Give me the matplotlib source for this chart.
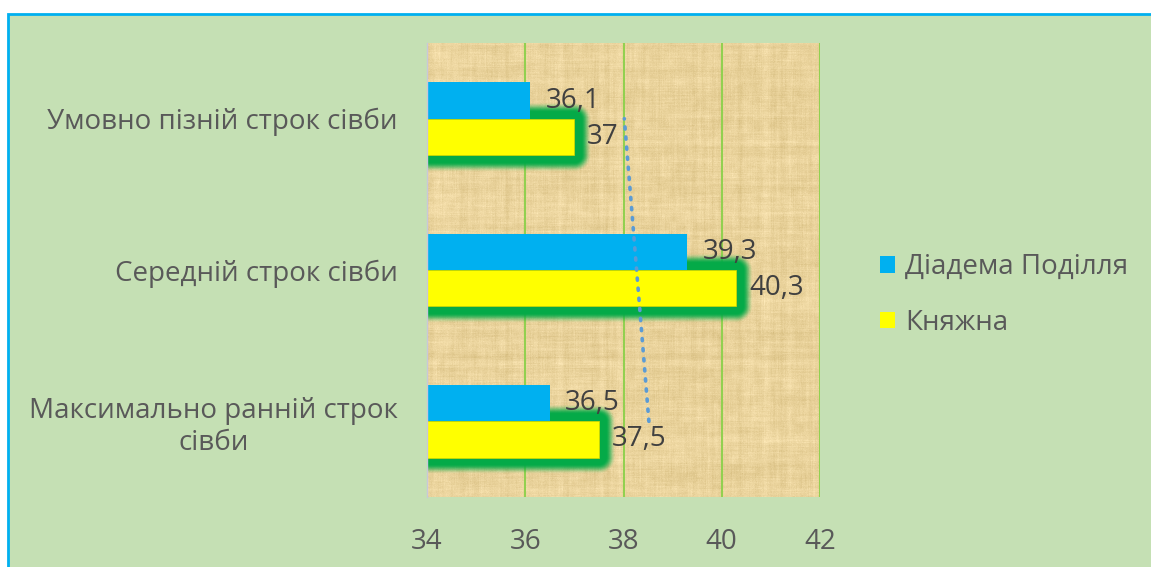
import matplotlib
matplotlib.use("Agg")
import matplotlib.pyplot as plt
import numpy as np
from matplotlib.patches import Rectangle

categories = ["Максимально ранній строк\nсівби", "Середній строк сівби", "Умовно пізній строк сівби"]
series_names = ["Діадема Поділля", "Княжна"]
diadema = [36.5, 39.3, 36.1]
kniazhna = [37.5, 40.3, 37.0]
x_ticks = [34, 36, 38, 40, 42]

BG = "#c5e0b4"
BLUE = "#00b0f0"
YELLOW = "#ffff00"
GLOW = "#04aa48"
TEXT = "#595959"
LABEL = "#404040"
FS = 20

W, H = 1151, 567
plt.rcParams["font.family"] = ["Open Sans", "DejaVu Sans"]

fig = plt.figure(figsize=(W / 100, H / 100), dpi=100)
fig.patch.set_facecolor("white")
fig.patches.append(Rectangle((8 / W, -0.05), 1.1, 1 - 14 / H + 0.05, transform=fig.transFigure,
                             facecolor=BG, edgecolor=BLUE, linewidth=2, zorder=-10))

ax_l, ax_r, ax_t, ax_b = 427, 820, 43, 497
ax = fig.add_axes([ax_l / W, 1 - ax_b / H, (ax_r - ax_l) / W, (ax_b - ax_t) / H])
ax.set_facecolor("none")
xmin, xmax = 34, 42
ymin, ymax = -0.5, 2.5
ax.set_xlim(xmin, xmax)
ax.set_ylim(ymin, ymax)


def smooth(a, n, axis):
    k = np.ones(n) / n
    return np.apply_along_axis(lambda r: np.convolve(r, k, mode="same"), axis, a)


# papyrus-like texture (decoration only)
rng = np.random.default_rng(3)
nh, nw = ax_b - ax_t, ax_r - ax_l
base = np.array([234, 211, 156]) / 255
rows = np.convolve(rng.normal(0, 1, nh + 20), np.ones(5) / 5, mode="same")[10:10 + nh]
cols = np.convolve(rng.normal(0, 1, nw + 20), np.ones(4) / 4, mode="same")[10:10 + nw]
blobs = smooth(smooth(rng.normal(0, 1, (nh, nw)), 9, 0), 9, 1) * 3
streak_h = smooth(rng.normal(0, 1, (nh, nw)), 25, 1) * 1.5
streak_v = smooth(rng.normal(0, 1, (nh, nw)), 25, 0) * 1.5
fine = rng.normal(0, 1, (nh, nw))
shade = 0.02 * rows[:, None] + 0.015 * cols[None, :] + 0.022 * blobs + 0.022 * (streak_h + streak_v) + 0.008 * fine
tex = np.clip(base[None, None, :] + shade[:, :, None] * np.array([1.0, 1.1, 1.4]), 0, 1)
ax.imshow(tex, extent=[xmin, xmax, ymin, ymax], aspect="auto", zorder=0, interpolation="bilinear")

# grid
for t in x_ticks[1:]:
    ax.axvline(t, color="#92d050", linewidth=1.5, zorder=1)

y = np.arange(len(categories))
h = 0.24

# green glow around yellow bars
px_x = nw / (xmax - xmin)
px_y = nh / (ymax - ymin)
gx = np.linspace(xmin, xmax, nw)
gy = np.linspace(ymax, ymin, nh)
GX, GY = np.meshgrid(gx, gy)
alpha = np.zeros_like(GX)
for yi, v in zip(y, kniazhna):
    y0, y1 = yi - h, yi
    dx = np.maximum.reduce([xmin - GX, np.zeros_like(GX), GX - v]) * px_x
    dy = np.maximum.reduce([y0 - GY, np.zeros_like(GY), GY - y1]) * px_y
    d = np.hypot(dx, dy)
    a = np.clip((17 - d) / 10, 0, 1)
    alpha = np.maximum(alpha, a * a * (3 - 2 * a))
glow = np.zeros((nh, nw, 4))
glow[..., :3] = matplotlib.colors.to_rgb(GLOW)
glow[..., 3] = alpha
ax.imshow(glow, extent=[xmin, xmax, ymin, ymax], aspect="auto", zorder=2, interpolation="bilinear")

ax.barh(y + h / 2, np.array(diadema) - xmin, left=xmin, height=h, color=BLUE, zorder=3, label=series_names[0])
ax.barh(y - h / 2, np.array(kniazhna) - xmin, left=xmin, height=h, color=YELLOW,
        edgecolor="#d8d800", linewidth=0.5, zorder=3, label=series_names[1])

for yi, v in zip(y, diadema):
    ax.annotate(f"{v:.1f}".replace(".", ","), (v, yi + h / 2), xytext=(11, 0), textcoords="offset points",
                va="center", ha="left", fontsize=FS, color=LABEL, zorder=5)
for yi, v in zip(y, kniazhna):
    s = f"{v:g}".replace(".", ",")
    ax.annotate(s, (v, yi - h / 2), xytext=(9, 0), textcoords="offset points",
                va="center", ha="left", fontsize=FS, color=LABEL, zorder=5)

# linear trend of the second series
k, b = np.polyfit(y, kniazhna, 1)
ax.plot(k * y[[0, -1]] + b, y[[0, -1]], linestyle=(0, (0.6, 2.2)), dash_capstyle="round",
        color="#5b9bd5", linewidth=2.6, zorder=4)

ax.set_yticks(y)
ax.set_yticklabels(categories, fontsize=FS, color=TEXT, multialignment="center")
ax.set_xticks(x_ticks)
ax.set_xticklabels([str(t) for t in x_ticks], fontsize=FS, color=TEXT)
ax.tick_params(axis="y", length=0, pad=21)
ax.tick_params(axis="x", length=0, pad=22)
for side in ["top", "right", "bottom"]:
    ax.spines[side].set_visible(False)
ax.spines["left"].set_color("#c8c8d8")
ax.spines["left"].set_linewidth(1.0)
ax.spines["left"].set_zorder(4)

leg = fig.legend(loc="center left", bbox_to_anchor=(855 / W, 1 - 295 / H), frameon=False,
                 fontsize=FS, labelcolor=TEXT, handlelength=0.55, handleheight=0.55,
                 handletextpad=0.35, labelspacing=1.0)
for hd in leg.legend_handles:
    hd.set_edgecolor("none")

fig.savefig("out.png", dpi=100, facecolor=fig.get_facecolor())
